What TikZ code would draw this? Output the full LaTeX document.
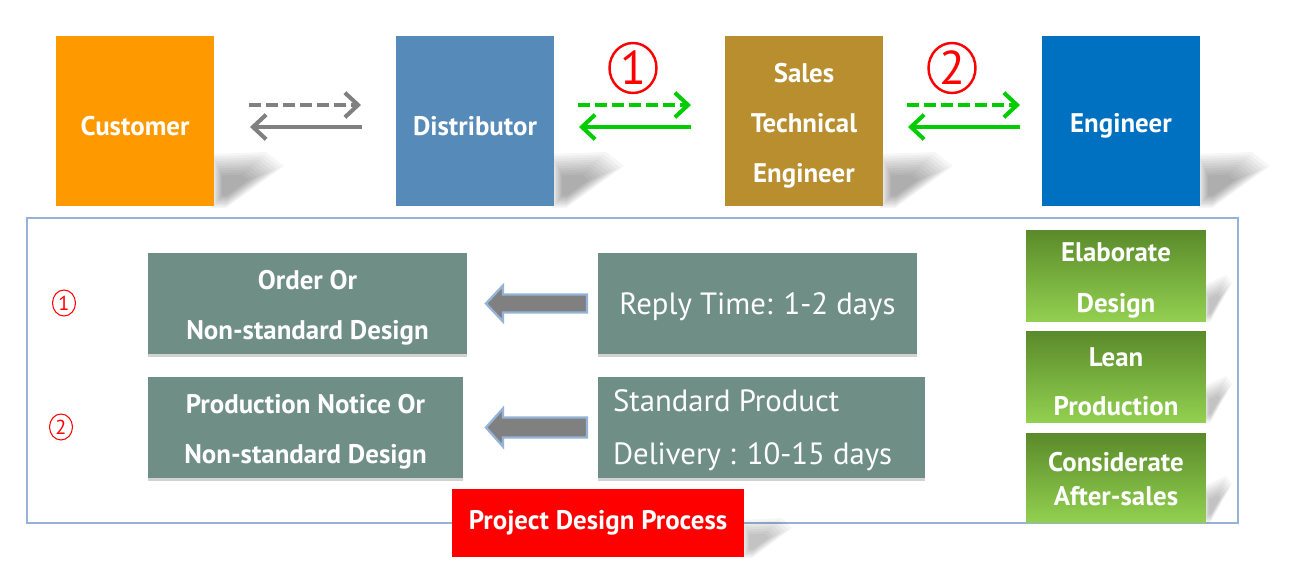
\documentclass[tikz,border=0pt]{standalone}
\usepackage{fontspec}
\setmainfont{PT Sans}
\usetikzlibrary{arrows.meta,calc,shadows,shapes.geometric}
\definecolor{corange}{HTML}{FF9900}
\definecolor{cdist}{HTML}{558AB9}
\definecolor{cste}{HTML}{B88E2F}
\definecolor{ceng}{HTML}{0070C0}
\definecolor{cgrey}{HTML}{6F8E86}
\definecolor{cgtop}{HTML}{5A8A2A}
\definecolor{cgbot}{HTML}{92D050}
\definecolor{cred}{HTML}{FF0000}
\definecolor{cframe}{HTML}{95B3D7}
\definecolor{carrgray}{HTML}{808080}
\definecolor{carrgreen}{HTML}{00CC00}
\begin{document}
\begin{tikzpicture}[x=0.02cm,y=-0.02cm,
  box/.style={inner sep=0pt, outer sep=0pt},
  lbl/.style={inner sep=0pt, outer sep=0pt, text=white, align=center,
    font=\bfseries\fontsize{15.3}{28.35}\selectfont},
  topbox/.style={box, minimum width=3.16cm, minimum height=3.4cm},
  greybox/.style={box, fill=cgrey, minimum height=2.02cm,
    drop shadow={shadow xshift=0pt, shadow yshift=-1.6pt, opacity=.35}},
  greenbox/.style={box, top color=cgtop, bottom color=cgbot, minimum width=3.6cm},
  softshadow/.style={fill=black, fill opacity=0.035, draw=none},
  conn/.style={line width=2.3pt, -{Straight Barb[length=7.5pt,width=14pt,line width=2.3pt]}},
  dashconn/.style={conn, dash pattern=on 6.8pt off 2.9pt},
  blockarrow/.style={fill=carrgray, draw=cframe, line width=1.3pt, line join=miter},
  circnum/.style={ellipse, draw=cred, text=cred, inner sep=0pt, outer sep=0pt},
  thin/.style={lbl, font=\fontsize{17.5}{29.5}\selectfont}
]
\useasboundingbox (0,0) rectangle (1296,586);
\fill[white] (0,0) rectangle (1296,586);

% frame of the lower part
\draw[cframe, line width=1.1pt] (27,218) rectangle (1238,523);

% soft perspective shadows of the top boxes (drawn below the boxes)
\foreach \xr in {214,554,883,1200}{
  \foreach \f in {1,0.93,...,0.3}{
    \fill[softshadow, scale around={\f:(\xr+14,188)}]
      (\xr-2,154) -- (\xr+52,152) -- (\xr+70,166) -- (\xr+12,208) -- (\xr-2,208) -- cycle;
  }
}

% top boxes
\node[topbox, fill=corange] (cust) at (135,121) {};
\node[topbox, fill=cdist] (dist) at (475,121) {};
\node[topbox, fill=cste] (ste) at (804,121) {};
\node[topbox, fill=ceng] (eng) at (1121,121) {};
\node[lbl] (custt) at ($(cust.center)+(0,5)$) {Customer};
\node[lbl] (distt) at ($(dist.center)+(0,5)$) {Distributor};
\node[lbl] (stet) at ($(ste.center)+(0,5)$) {Sales\\Technical\\Engineer};
\node[lbl] (engt) at ($(eng.center)+(0,5)$) {Engineer};

% top connectors
\draw[dashconn, carrgray] ($(cust.east)+(35,-16)$) -- ($(dist.west)+(-35,-16)$);
\draw[conn, carrgray] ($(dist.west)+(-34,6)$) -- ($(cust.east)+(36,6)$);
\draw[dashconn, carrgreen] ($(dist.east)+(24,-16)$) -- ($(ste.west)+(-34,-16)$);
\draw[conn, carrgreen] ($(ste.west)+(-34,6)$) -- ($(dist.east)+(25,6)$);
\draw[dashconn, carrgreen] ($(ste.east)+(24,-16)$) -- ($(eng.west)+(-22,-16)$);
\draw[conn, carrgreen] ($(eng.west)+(-22,6)$) -- ($(ste.east)+(25,6)$);

% circled numbers at the top
\node[circnum, line width=1.4pt, minimum width=0.94cm, minimum height=1.0cm] (n1) at (633,68)
  {\fontsize{27}{27}\selectfont 1};
\node[circnum, line width=1.4pt, minimum width=0.94cm, minimum height=1.0cm] (n2) at (952,68)
  {\fontsize{27}{27}\selectfont 2};

% small circled numbers
\node[circnum, line width=0.6pt, minimum width=0.46cm, minimum height=0.52cm] (s1) at (64,303)
  {\fontsize{11.5}{11.5}\selectfont 1};
\node[circnum, line width=0.6pt, minimum width=0.46cm, minimum height=0.52cm] (s2) at (61,427)
  {\fontsize{11.5}{11.5}\selectfont 2};

% grey boxes
\node[greybox, minimum width=6.38cm] (order) at (307.5,303.5) {};
\node[greybox, minimum width=6.3cm] (prod) at (305.5,427.5) {};
\node[greybox, minimum width=6.38cm] (reply) at (757.5,303.5) {};
\node[greybox, minimum width=6.54cm] (std) at (761.5,427.5) {};
\node[lbl] (ordert) at ($(order.center)+(0,4.5)$) {Order Or\\Non-standard Design};
\node[lbl] (prodt) at ($(prod.center)+(0,4.5)$) {Production Notice Or\\Non-standard Design};
\node[thin] (replyt) at ($(reply.center)+(0,3)$) {Reply Time: 1-2 days};
\node[thin, align=left, anchor=west, font=\fontsize{17.5}{30}\selectfont] (stdt) at ($(std.west)+(15,3)$)
  {Standard Product\\Delivery : 10-15 days};

% block arrows
\draw[blockarrow] ($(reply.west)+(-11,-9)$) -- ($(reply.west)+(-11,9)$) -- ($(order.east)+(36,9)$)
  -- ($(order.east)+(36,18)$) -- ($(order.east)+(19,0)$) -- ($(order.east)+(36,-18)$)
  -- ($(order.east)+(36,-9)$) -- cycle;
\draw[blockarrow] ($(std.west)+(-11,-10)$) -- ($(std.west)+(-11,10)$) -- ($(prod.east)+(40,10)$)
  -- ($(prod.east)+(40,19)$) -- ($(prod.east)+(23,0)$) -- ($(prod.east)+(40,-19)$)
  -- ($(prod.east)+(40,-10)$) -- cycle;

% green boxes with soft shadows
\foreach \by in {321,422,522}{
  \foreach \f in {1,0.9,...,0.3}{
    \fill[softshadow, scale around={\f:(1212,\by-14)}]
      (1204,\by-36) -- (1226,\by-46) -- (1232,\by-38) -- (1210,\by+1) -- (1204,\by+1) -- cycle;
  }
}
\node[greenbox, minimum height=1.82cm] (elab) at (1116,275.5) {};
\node[greenbox, minimum height=1.82cm] (lean) at (1116,376.5) {};
\node[greenbox, minimum height=1.78cm] (cons) at (1116,477.5) {};
\node[lbl, font=\bfseries\fontsize{15.3}{28.9}\selectfont] (elabt) at ($(elab.center)+(0,5)$) {Elaborate\\Design};
\node[lbl, font=\bfseries\fontsize{15.3}{28}\selectfont] (leant) at ($(lean.center)+(0,5)$) {Lean\\Production};
\node[lbl, font=\bfseries\fontsize{15.3}{19.3}\selectfont] (const) at ($(cons.center)+(0,1.5)$) {Considerate\\After-sales};

% red title box with soft shadow
\foreach \f in {1,0.9,...,0.3}{
  \fill[softshadow, scale around={\f:(754,544)}]
    (742,520) -- (782,518) -- (792,528) -- (752,558) -- (742,558) -- cycle;
}
\node[box, fill=cred, minimum width=5.84cm, minimum height=1.36cm] (title) at (598,523) {};
\node[lbl] (titlet) at (title.center) {Project Design Process};
\end{tikzpicture}
\end{document}
